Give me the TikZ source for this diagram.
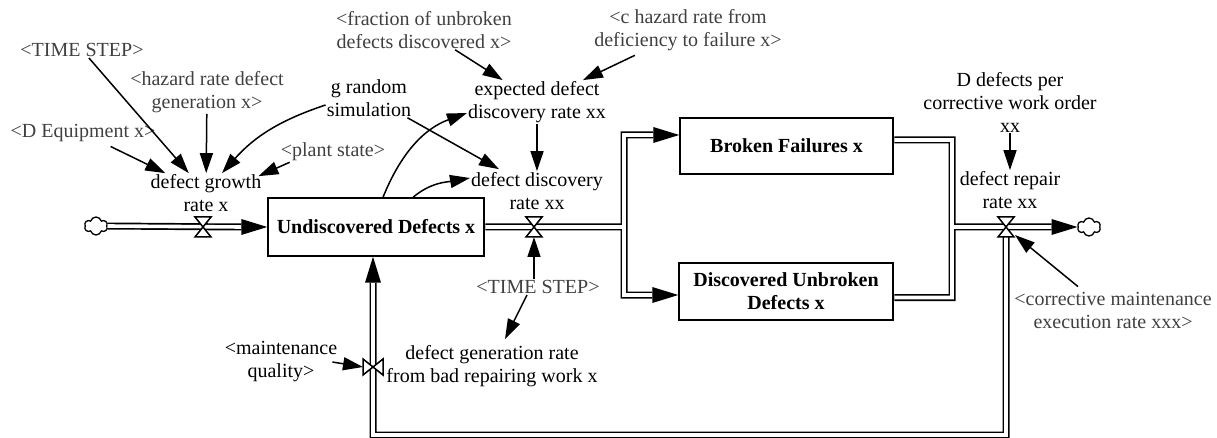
\documentclass[tikz,border=0pt]{standalone}
\usepackage{fontspec}
\setmainfont{Liberation Serif}
\usetikzlibrary{arrows.meta,shapes.symbols}
\begin{document}
\begin{tikzpicture}[x=1pt,y=-1pt,
  lbl/.style={font=\fontsize{20}{23}\selectfont, align=center, inner sep=1pt},
  shadowvar/.style={lbl, text=black!75},
  stock/.style={draw, line width=1.4pt, font=\fontsize{20}{23}\selectfont\bfseries, align=center, inner sep=2pt},
  link/.style={line width=1.5pt, -{Triangle[length=20pt,width=13pt]}},
  pipeout/.style={line width=7pt, line join=miter},
  pipein/.style={line width=3.6pt, white, line join=miter},
  sink/.style={cloud, cloud puffs=6, cloud ignores aspect, draw, line width=1.3pt,
    minimum width=23pt, minimum height=18pt, inner sep=0pt, fill=white},
  hvalve/.pic={\draw[line width=1.5pt, fill=white] (-8,-10) -- (8,-10) -- (-8,10) -- (8,10) -- cycle;},
  vvalve/.pic={\draw[line width=1.5pt, fill=white] (-10,-8) -- (-10,8) -- (10,-8) -- (10,8) -- cycle;},
  headright/.pic={\fill (0,0) -- (-26,8) -- (-26,-8) -- cycle;},
  headup/.pic={\fill (0,0) -- (-8,26) -- (8,26) -- cycle;},
]
\useasboundingbox (0,0) rectangle (1217,438);

% stocks
\node[stock, minimum width=216pt, minimum height=58pt] (und) at (376,227) {Undiscovered Defects x};
\node[stock, minimum width=213pt, minimum height=56pt] (brk) at (786.5,146) {Broken Failures x};
\node[stock, minimum width=214pt, minimum height=57pt] (dsc) at (786,291.5) {Discovered Unbroken\\Defects x};

% sources and sinks
\node[sink] (c1) at (96,226) {};
\node[sink] (c2) at (1089,227) {};

% valves and pipe corners
\coordinate (v1) at (203,227);
\coordinate (v2) at (534,227);
\coordinate (v3) at (1006,227);
\coordinate (v4) at (373,367);
\coordinate (jL) at (624,227);
\coordinate (jR) at (952,227);
\coordinate (brkIn) at ([yshift=11pt]brk.west);
\coordinate (dscIn) at ([yshift=-3.5pt]dsc.west);
\coordinate (brkOut) at ([xshift=0.7pt,yshift=6pt]brk.east);
\coordinate (dscOut) at ([xshift=0.7pt,yshift=-6pt]dsc.east);
\coordinate (undOut) at ([xshift=0.7pt]und.east);
\coordinate (undIn) at (v4 |- und.south);
\coordinate (loopR) at (1006,435);
\coordinate (loopL) at (373,435);

% variables
\node[lbl] (growth) at (206,193) {defect growth\\rate x};
\node[shadowvar] (tsA) at (82,50) {<TIME STEP>};
\node[shadowvar] (hzd) at (207,92) {<hazard rate defect\\generation x>};
\node[shadowvar] (deq) at (83,133) {<D Equipment x>};
\node[lbl] (grs) at (369,98) {g random\\simulation};
\node[shadowvar] (plant) at (333,152) {<plant state>};
\node[shadowvar] (frac) at (424,30) {<fraction of unbroken\\defects discovered x>};
\node[shadowvar] (chz) at (688,30) {<c hazard rate from\\deficiency to failure x>};
\node[lbl] (exp) at (537,102) {expected defect\\discovery rate xx};
\node[lbl] (disc) at (537,191) {defect discovery\\rate xx};
\node[shadowvar] (tsB) at (538,287) {<TIME STEP>};
\node[lbl] (gen) at (492,366) {defect generation rate\\from bad repairing work x};
\node[lbl] (mq) at (281,362) {<maintenance\\quality>};
\node[lbl] (dpw) at (1010,102) {D defects per\\corrective work order\\xx};
\node[lbl] (rep) at (1010,190) {defect repair\\rate xx};
\node[shadowvar] (cme) at (1113,310) {<corrective maintenance\\execution rate xxx>};

% pipes: outline pass, then hollow pass
\path[save path=\pipenet]
  (c1.east) -- ([xshift=-26pt]und.west)
  (undOut) -- (jL)
  ([xshift=-26pt]brkIn) -| (jL) |- ([xshift=-26pt]dscIn)
  (brkOut) -| (jR) |- (dscOut)
  (jR) -- ([xshift=-26pt]c2.west)
  (v3) -- (loopR) -- (loopL) -- ([yshift=-26pt]undIn);
\draw[pipeout, use path=\pipenet];
\draw[pipein, use path=\pipenet];

\pic at (und.west) {headright};
\pic at (brkIn) {headright};
\pic at (dscIn) {headright};
\pic at (c2.west) {headright};
\pic at (undIn) {headup};

\pic at (v1) {hvalve};
\pic at (v2) {hvalve};
\pic at (v3) {hvalve};
\pic at (v4) {vvalve};

% information links
\draw[link] (tsA) -- (growth);
\draw[link] (hzd) -- (growth);
\draw[link, shorten <=8pt] (deq) -- (growth);
\draw[link] ([yshift=-7pt]grs.west) to[bend right=15] ([xshift=16pt]growth.north);
\draw[link] ([xshift=10pt]plant.south west) -- ([xshift=-4pt,yshift=-3pt]growth.north east);
\draw[link] ([xshift=-5pt]grs.south east) -- ([xshift=-38pt,yshift=2pt]disc.north);
\draw[link] ([xshift=7pt]und.north) to[out=68,in=200] ([yshift=-11pt]exp.west);
\draw[link] ([xshift=37pt]und.north) to[out=40,in=190] ([yshift=13pt]disc.west);
\draw[link] (frac) -- (exp);
\draw[link, shorten <=8pt] (chz) -- (exp);
\draw[link] (exp) -- (disc);
\draw[link] (tsB.north -| v2) -- ([yshift=-10pt]v2);
\draw[link] ([xshift=-11pt]tsB.south) -- ([xshift=13pt,yshift=5pt]gen.north);
\draw[link] ([xshift=-6pt]mq.east) -- ([xshift=-10pt]v4);
\draw[link] (dpw) -- (rep);
\draw[link] ([xshift=-35pt,yshift=4pt]cme.north) -- ([xshift=9pt,yshift=-8pt]v3);
\end{tikzpicture}
\end{document}
